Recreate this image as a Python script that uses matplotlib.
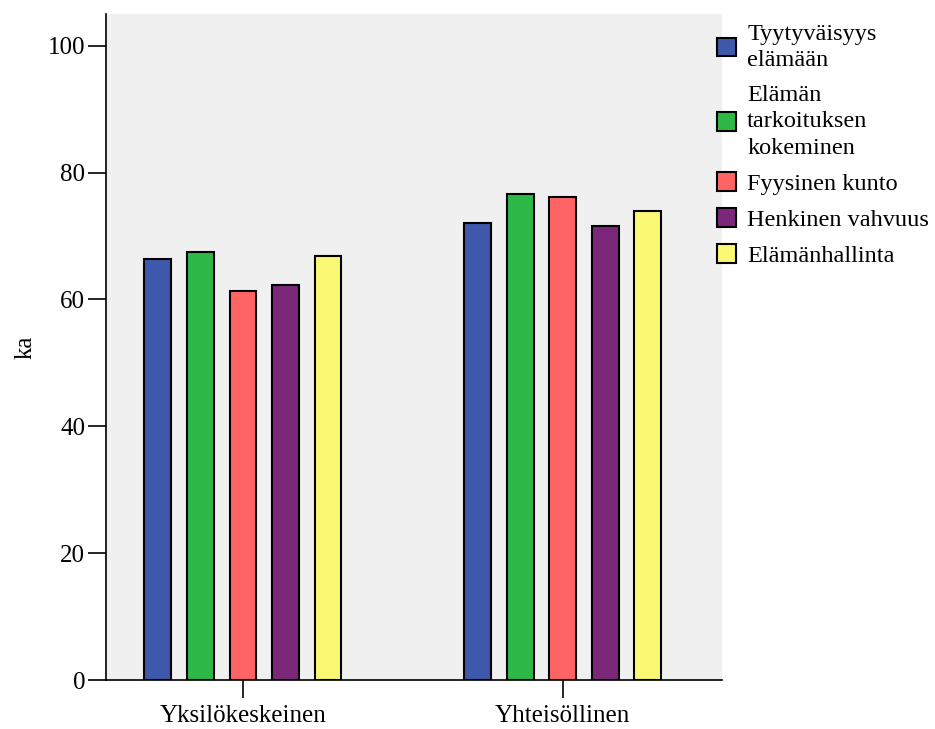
import matplotlib.pyplot as plt
import numpy as np

plt.rcParams['font.family'] = ['Liberation Serif', 'DejaVu Serif']

categories = ['Yksilökeskeinen', 'Yhteisöllinen']
series = ['Tyytyväisyys\nelämään', 'Elämän\ntarkoituksen\nkokeminen',
          'Fyysinen kunto', 'Henkinen vahvuus', 'Elämänhallinta']
values = [
    [66.3, 72.1],
    [67.4, 76.7],
    [61.4, 76.1],
    [62.2, 71.5],
    [66.8, 73.9],
]
colors = ['#3E58AC', '#2EB848', '#FF6464', '#7B287A', '#FBF873']
yticks = [0, 20, 40, 60, 80, 100]

fig = plt.figure(figsize=(9.35, 7.29), dpi=100)
ax = fig.add_axes([0.1134, 0.0672, 0.6586, 0.9136])
ax.set_facecolor('#F0F0F0')

x = np.arange(len(categories))
step = 0.133
width = 0.084
for i, (vals, c, lab) in enumerate(zip(values, colors, series)):
    ax.bar(x + (i - 2) * step, vals, width, color=c, edgecolor='black',
           linewidth=1.5, label=lab, zorder=3)

ax.set_xlim(-0.428, 1.497)
ax.set_ylim(0, 105)
ax.set_xticks(x)
ax.set_xticklabels(categories, fontsize=18)
ax.set_yticks(yticks)
ax.set_yticklabels([str(t) for t in yticks], fontsize=18)
ax.tick_params(axis='y', length=13, width=1.2, pad=2)
ax.tick_params(axis='x', length=13, width=1.2, pad=5)
ax.spines['top'].set_visible(False)
ax.spines['right'].set_visible(False)
ax.spines['left'].set_linewidth(1.2)
ax.spines['bottom'].set_linewidth(1.2)
ax.set_ylabel('ka', fontsize=18, labelpad=8)

leg = ax.legend(loc='upper left', bbox_to_anchor=(0.976, 1.0), frameon=False,
                fontsize=17.5, handlelength=0.8, handleheight=0.8,
                handletextpad=0.45, labelspacing=0.55, borderaxespad=0)
for t in leg.get_texts():
    t.set_linespacing(1.35)

fig.savefig('out.png', dpi=100)
